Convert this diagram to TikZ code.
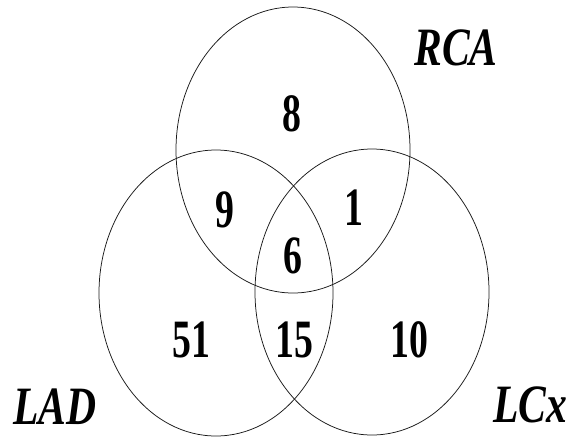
\documentclass[tikz,border=0pt]{standalone}
\usepackage{fontspec}
\setmainfont{Liberation Serif}
\usepackage{tikz}
\usetikzlibrary{shapes.geometric}

\begin{document}
\begin{tikzpicture}[x=1pt,y=-1pt,
                    set/.style={ellipse,draw=black!90,line width=0.75pt,
                                minimum width=234pt,minimum height=286pt,
                                inner sep=0pt},
                    count/.style={font=\fontsize{54}{54}\selectfont\bfseries,
                                  xscale=0.7,inner sep=0pt},
                    artery/.style={font=\fontsize{54}{54}\selectfont\bfseries\itshape,
                                   xscale=0.77,inner sep=0pt}]
  \useasboundingbox (0,0) rectangle (572,437);
  % the three vessels
  \node[set] (rca) at (293,150) {};
  \node[set] (lad) at (216,293) {};
  \node[set] (lcx) at (372,292) {};
  % region counts
  \node[count] (onlyrca) at (292,114) {8};
  \node[count] (radrca) at (225,210) {9};
  \node[count] (cxrca) at (354,208) {1};
  \node[count] (all) at (293,256) {6};
  \node[count] (onlylad) at (191,340) {51};
  \node[count] (ladcx) at (294,340) {15};
  \node[count] (onlylcx) at (409,340) {10};
  % vessel names
  \node[artery] (rcaname) at (456,48) {RCA};
  \node[artery] (ladname) at (55,407) {LAD};
  \node[artery] (lcxname) at (530,405) {LCx};
\end{tikzpicture}
\end{document}
